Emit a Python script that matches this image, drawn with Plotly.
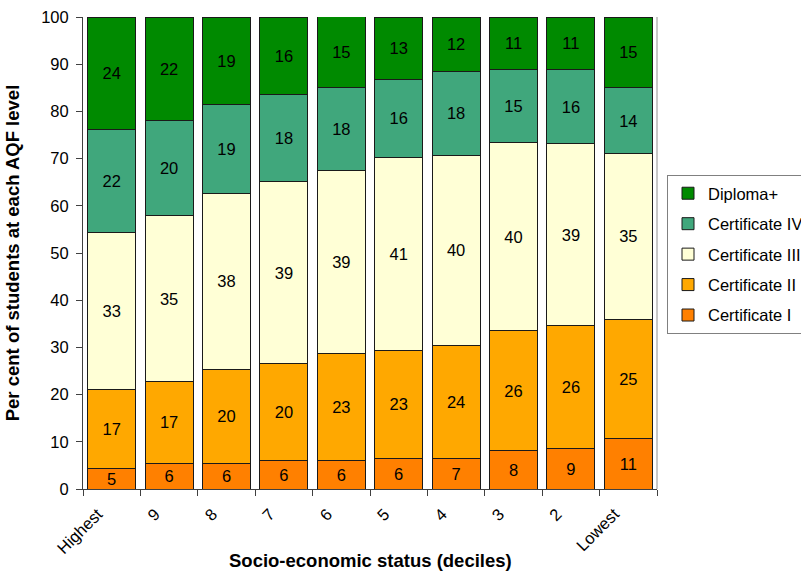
import plotly.graph_objects as go

categories = ["Highest", "9", "8", "7", "6", "5", "4", "3", "2", "Lowest"]

# Segment heights (per cent)
cert1 = [4.45, 5.5, 5.5, 6.1, 6.1, 6.5, 6.5, 8.2, 8.5, 10.6]
cert2 = [16.6, 17.3, 19.8, 20.5, 22.55, 22.9, 24.0, 25.3, 26.1, 25.4]
cert3 = [33.4, 35.1, 37.4, 38.5, 38.85, 40.9, 40.2, 39.9, 38.5, 35.1]
cert4 = [21.8, 20.15, 18.8, 18.5, 17.5, 16.4, 17.8, 15.4, 15.7, 13.9]
diploma = [23.75, 21.95, 18.5, 16.4, 15.05, 13.3, 11.5, 11.2, 11.2, 15.0]

# Data labels as printed on the chart
lab1 = [5, 6, 6, 6, 6, 6, 7, 8, 9, 11]
lab2 = [17, 17, 20, 20, 23, 23, 24, 26, 26, 25]
lab3 = [33, 35, 38, 39, 39, 41, 40, 40, 39, 35]
lab4 = [22, 20, 19, 18, 18, 16, 18, 15, 16, 14]
lab5 = [24, 22, 19, 16, 15, 13, 12, 11, 11, 15]

series = [
    ("Certificate I", cert1, lab1, "#ff8000"),
    ("Certificate II", cert2, lab2, "#ffa800"),
    ("Certificate III", cert3, lab3, "#ffffd6"),
    ("Certificate IV", cert4, lab4, "#40a77c"),
    ("Diploma+", diploma, lab5, "#008a00"),
]

FONT = "Arial, Liberation Sans, sans-serif"
FS = 16.5

fig = go.Figure()
for i, (name, vals, labs, col) in enumerate(series):
    fig.add_trace(go.Bar(
        name=name, x=categories, y=vals,
        text=[str(v) for v in labs],
        textposition="inside", insidetextanchor="middle", textangle=0,
        constraintext="none",
        textfont=dict(family=FONT, size=FS, color="black"),
        marker=dict(color=col, line=dict(color="#1a1a1a", width=1)),
        legendgroup=f"g{i}",
        legendrank=len(series) - i,
        hoverinfo="skip",
    ))

fig.update_layout(
    barmode="stack",
    bargap=0.165,
    width=801, height=574,
    margin=dict(l=83, r=144, t=17, b=85),
    paper_bgcolor="white", plot_bgcolor="white",
    font=dict(family=FONT, size=FS, color="black"),
    showlegend=True,
    legend=dict(
        traceorder="grouped",
        tracegroupgap=6,
        xref="container", yref="container",
        x=667 / 801, xanchor="left", y=1 - 175 / 574, yanchor="top",
        itemwidth=30,
        bordercolor="#808080", borderwidth=1,
        font=dict(family=FONT, size=FS, color="black"),
    ),
    xaxis=dict(
        automargin=False,
        tickangle=-45, tickson="boundaries", ticks="outside", ticklen=6,
        tickcolor="#404040", showline=True, linecolor="#404040", linewidth=1,
        tickfont=dict(family=FONT, size=FS, color="black"),
        ticklabelshift=-14, ticklabelstandoff=8,
        showgrid=False,
    ),
    yaxis=dict(
        automargin=False,
        range=[0, 100], dtick=10, ticks="outside", ticklen=6,
        tickcolor="#404040", showline=True, linecolor="#404040", linewidth=1,
        tickfont=dict(family=FONT, size=FS, color="black"),
        ticklabelstandoff=4,
        title=dict(text="<b>Per cent of students at each AQF level</b>",
                   font=dict(family=FONT, size=18.5, color="black"), standoff=16),
        showgrid=False, zeroline=False,
    ),
    annotations=[dict(
        text="<b>Socio-economic status (deciles)</b>",
        xref="paper", yref="paper", x=0.5, y=(489 - 560) / 472,
        xanchor="center", yanchor="middle", showarrow=False,
        font=dict(family=FONT, size=18.5, color="black"),
    )],
    shapes=[dict(type="line", xref="paper", yref="paper", x0=1, x1=1, y0=0, y1=1,
                 line=dict(color="#909090", width=1))],
)

fig.write_html("out.html")
